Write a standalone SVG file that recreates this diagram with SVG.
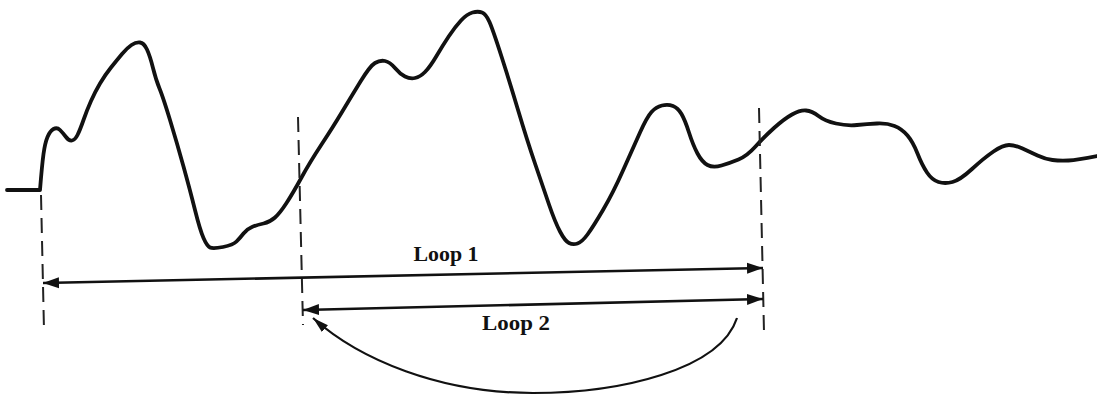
<svg xmlns="http://www.w3.org/2000/svg" width="1097" height="396" viewBox="0 0 1097 396">
<style>
.wave{fill:none;stroke:#111;stroke-width:3.8;stroke-linecap:round;stroke-linejoin:round}
.dash{fill:none;stroke:#222;stroke-width:2;stroke-dasharray:15 8}
.dim{fill:none;stroke:#111;stroke-width:2.6}
.arc{fill:none;stroke:#111;stroke-width:2.2}
.lbl{font-family:"Liberation Serif",serif;font-weight:bold;font-size:21px;fill:#111;text-anchor:middle}
</style>
<defs>
<marker id="ah" markerUnits="userSpaceOnUse" markerWidth="18" markerHeight="12" refX="16" refY="6" orient="auto-start-reverse">
<path d="M0,0.5 L16,6 L0,11.5 Z" fill="#111"/>
</marker>
<marker id="ah2" markerUnits="userSpaceOnUse" markerWidth="18" markerHeight="10" refX="16" refY="5" orient="auto">
<path d="M0,0.5 L16,5 L0,9.5 Z" fill="#111"/>
</marker>
</defs>
<rect width="1097" height="396" fill="#fff"/>
<g id="waveform">
<path class="wave" d="M7,190 L40,190 Q42,165 43.5,154 Q45,143 47.5,137 Q50,131 53.5,129 Q57,127 60,130 Q63,133 66,137 Q69,141 72,140.5 Q75,140 77.5,135 Q80,130 83.5,120 Q87,110 91,101 Q95,92 100,83.5 Q105,75 111,67.5 Q117,60 122,54 Q127,48 131.5,45 Q136,42 140,42.5 Q144,43 147,49.5 Q150,56 153,68 Q156,80 159.5,88.5 Q163,97 170,120 Q177,143 183.5,166.5 Q190,190 195,210 Q200,230 203.5,238 Q207,246 210,247.5 Q213,249 223,247 Q233,245 236.5,241.5 Q240,238 243.5,233.5 Q247,229 252,227 Q257,225 263.5,223.5 Q270,222 275,217.5 Q280,213 286.5,203 Q293,193 301.5,177.5 Q310,162 321.5,144.5 Q333,127 342,112 Q351,97 360.5,81.5 Q370,66 375,63 Q380,60 385,61 Q390,62 395,68 Q400,74 405,76.5 Q410,79 415,78 Q420,77 425,72 Q430,67 436.5,56 Q443,45 449,36 Q455,27 461,20.5 Q467,14 472.5,12.5 Q478,11 482,12.5 Q486,14 489.5,22 Q493,30 501.5,56.5 Q510,83 518.5,111.5 Q527,140 535,163.5 Q543,187 549,204.5 Q555,222 560,231.5 Q565,241 569,243 Q573,245 577.5,243.5 Q582,242 587.5,234.5 Q593,227 603,210 Q613,193 623,170.5 Q633,148 640,132.5 Q647,117 651.5,112 Q656,107 662,105.5 Q668,104 673,106 Q678,108 681.5,114 Q685,120 689,132.5 Q693,145 697.5,153.5 Q702,162 707.5,165 Q713,168 721.5,165.5 Q730,163 738.5,159.5 Q747,156 755.5,146.5 Q764,137 774,128 Q784,119 792,114.5 Q800,110 806,110.5 Q812,111 818.5,116 Q825,121 836,123.5 Q847,126 857,125 Q867,124 877,123.5 Q887,123 894.5,126 Q902,129 907.5,135.5 Q913,142 917.5,153.5 Q922,165 927,172.5 Q932,180 938.5,182 Q945,184 952.5,182 Q960,180 972,169 Q984,158 993.5,151.5 Q1003,145 1009,145 Q1015,145 1022.5,148.5 Q1030,152 1037.5,155.5 Q1045,159 1052.5,160 Q1060,161 1068.5,160.5 Q1077,160 1097,156"/>
</g>
<g id="markers">
<line class="dash" x1="41" y1="195" x2="44" y2="330"/>
<line class="dash" x1="298" y1="117" x2="303" y2="325"/>
<line class="dash" x1="759" y1="108" x2="764" y2="332"/>
</g>
<g id="connectors">
<path id="loop1-arrow" class="dim" d="M43,283 L763,268" marker-start="url(#ah)" marker-end="url(#ah)"/>
<path id="loop2-arrow" class="dim" d="M303,310 L763,299" marker-start="url(#ah)" marker-end="url(#ah)"/>
<path id="return-arrow" class="arc" d="M737,318 C720,370 620,393 533,393 C440,393 360,360 313,318" marker-end="url(#ah2)"/>
</g>
<g id="labels">
<text class="lbl" x="446" y="261" textLength="65" lengthAdjust="spacingAndGlyphs">Loop 1</text>
<text class="lbl" x="516" y="330" textLength="68" lengthAdjust="spacingAndGlyphs">Loop 2</text>
</g>
</svg>
